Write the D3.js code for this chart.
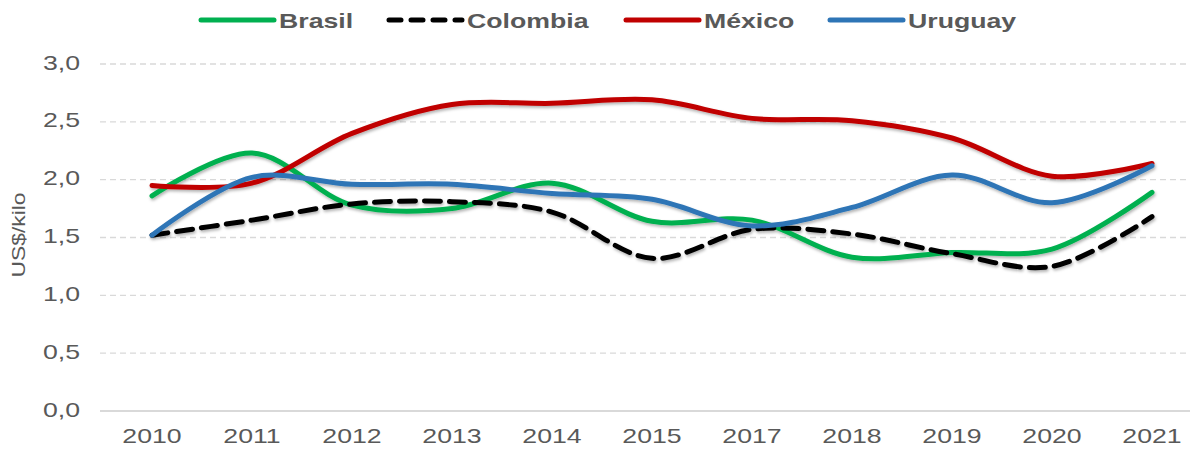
<!DOCTYPE html>
<html>
<head>
<meta charset="utf-8">
<script src="https://cdn.jsdelivr.net/npm/d3@7"></script>
<style>
    body { margin: 0; background: #fff; }
    #chart { width: 1196px; height: 449px; }
    text { font-family: "Liberation Sans", Arial, sans-serif; fill: #595959; }
</style>
</head>
<body>
<div id="chart"></div>
<script>
// data
var years = ["2010", "2011", "2012", "2013", "2014", "2015", "2017", "2018", "2019", "2020", "2021"];
var brasil   = [1.86, 2.23, 1.78, 1.75, 1.97, 1.64, 1.65, 1.33, 1.37, 1.40, 1.89];
var colombia = [1.52, 1.65, 1.79, 1.81, 1.72, 1.32, 1.57, 1.53, 1.36, 1.25, 1.68];
var mexico   = [1.95, 1.97, 2.40, 2.65, 2.66, 2.69, 2.53, 2.51, 2.36, 2.03, 2.14];
var uruguay  = [1.52, 2.02, 1.96, 1.96, 1.88, 1.83, 1.60, 1.76, 2.04, 1.80, 2.12];
var yTicks = [0, 0.5, 1, 1.5, 2, 2.5, 3];

var series = [
    { name: "Brasil",   values: brasil,   color: "#00b050", dash: null },
    { name: "Colombia", values: colombia, color: "#000000", dash: "16 9" },
    { name: "México",   values: mexico,   color: "#c00000", dash: null },
    { name: "Uruguay",  values: uruguay,  color: "#2e75b6", dash: null }
];

var width = 1196, height = 449;
var stretch = "scale(1.27,1)"; // the original text is stretched sideways

var svg = d3.select("#chart").append("svg")
    .attr("width", width)
    .attr("height", height);

// soft shadow like the original
var defs = svg.append("defs");
defs.append("filter").attr("id", "shadow")
    .attr("x", "-5%").attr("y", "-20%").attr("width", "110%").attr("height", "140%")
    .append("feDropShadow")
    .attr("dx", 1).attr("dy", 2).attr("stdDeviation", 1.5)
    .attr("flood-color", "#000").attr("flood-opacity", 0.3);

var x = d3.scaleBand().domain(years).range([102, 1202]);
var y = d3.scaleLinear().domain([0, 3]).range([411, 64]);
var fmt = function(d) { return d3.format(".1f")(d).replace(".", ","); };

// gridlines
svg.append("g").selectAll("line")
    .data(yTicks)
    .enter()
    .append("line")
    .attr("x1", 100).attr("x2", 1190)
    .attr("y1", function(d) { return y(d); })
    .attr("y2", function(d) { return y(d); })
    .attr("stroke", "#d9d9d9")
    .attr("stroke-width", function(d) { return d == 0 ? 2 : 1.3; })
    .attr("stroke-dasharray", function(d) { return d == 0 ? null : "6 4"; });

// y axis labels
var yAxis = svg.append("g")
    .attr("transform", "translate(80,0)")
    .call(d3.axisLeft(y).tickValues(yTicks).tickFormat(fmt).tickSize(0).tickPadding(0));
yAxis.select(".domain").remove();
yAxis.selectAll("text")
    .attr("x", 0)
    .attr("dy", "0.24em")
    .attr("transform", stretch)
    .style("font-size", "21px")
    .style("fill", "#595959");

svg.append("text")
    .attr("transform", "translate(25,235) rotate(-90) " + stretch)
    .attr("text-anchor", "middle")
    .style("font-size", "18px")
    .text("US$/kilo");

// x axis labels
var xAxis = svg.append("g")
    .attr("transform", "translate(0,428)")
    .call(d3.axisBottom(x).tickSize(0).tickPadding(0));
xAxis.select(".domain").remove();
xAxis.selectAll("text")
    .attr("dy", "0.71em")
    .attr("transform", stretch)
    .style("font-size", "21px")
    .style("fill", "#595959");

// lines
var line = d3.line()
    .x(function(d, i) { return x(years[i]) + x.bandwidth() / 2; })
    .y(function(d) { return y(d); })
    .curve(d3.curveCatmullRom.alpha(0.5));

svg.append("g")
    .attr("filter", "url(#shadow)")
    .selectAll("path")
    .data(series)
    .enter()
    .append("path")
    .attr("d", function(d) { return line(d.values); })
    .attr("fill", "none")
    .attr("stroke", function(d) { return d.color; })
    .attr("stroke-width", 5)
    .attr("stroke-linecap", "round")
    .attr("stroke-dasharray", function(d) { return d.dash; });

// legend
var legendX = [201, 389, 626, 830];
var legend = svg.append("g").selectAll("g")
    .data(series)
    .enter()
    .append("g")
    .attr("transform", function(d, i) { return "translate(" + legendX[i] + ",20)"; });

legend.append("line")
    .attr("x1", 0).attr("x2", 73)
    .attr("stroke", function(d) { return d.color; })
    .attr("stroke-width", 5)
    .attr("stroke-linecap", "round")
    .attr("stroke-dasharray", function(d) { return d.dash ? "12 10" : null; });

legend.append("text")
    .attr("transform", "translate(78,0) " + stretch)
    .attr("dy", "0.36em")
    .style("font-size", "21px")
    .style("font-weight", "bold")
    .text(function(d) { return d.name; });
</script>
</body>
</html>
